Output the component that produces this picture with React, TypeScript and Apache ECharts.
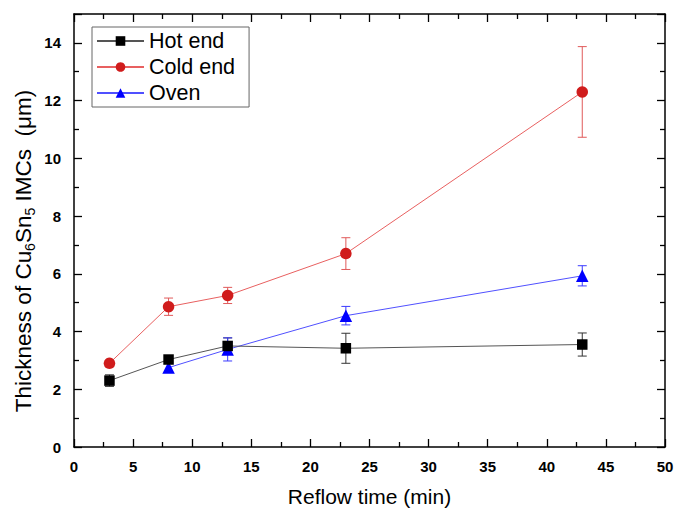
import React, { useEffect, useRef } from "react";
import * as echarts from "echarts";

const xValues = [3, 8, 13, 23, 43];
const hotEnd = [2.3, 3.03, 3.5, 3.42, 3.55];
const hotEndErr = [0.2, 0.1, 0.28, 0.52, 0.4];
const coldEnd = [2.9, 4.86, 5.25, 6.7, 12.3];
const coldEndErr = [0.05, 0.3, 0.28, 0.55, 1.57];
const ovenX = [8, 13, 23, 43];
const oven = [2.75, 3.38, 4.55, 5.93];
const ovenErr = [0.17, 0.4, 0.32, 0.35];

const FONT = "Liberation Sans, Arial, sans-serif";

function errorSeries(name: string, xs: number[], ys: number[], errs: number[], color: string) {
  const data = xs.map((x, i) => [x, ys[i] - errs[i], ys[i] + errs[i]]);
  return {
    type: "custom",
    name: name + "_err",
    z: 1,
    silent: true,
    data,
    renderItem: (params: any, api: any) => {
      const x = api.value(0);
      const lo = api.coord([x, api.value(1)]);
      const hi = api.coord([x, api.value(2)]);
      const hw = 4.5;
      const style = { stroke: color, lineWidth: 1 };
      return {
        type: "group",
        children: [
          { type: "line", shape: { x1: lo[0], y1: lo[1], x2: hi[0], y2: hi[1] }, style },
          { type: "line", shape: { x1: lo[0] - hw, y1: lo[1], x2: lo[0] + hw, y2: lo[1] }, style },
          { type: "line", shape: { x1: hi[0] - hw, y1: hi[1], x2: hi[0] + hw, y2: hi[1] }, style },
        ],
      };
    },
  };
}

export default function App() {
  const ref = useRef<HTMLDivElement>(null);
  useEffect(() => {
    if (!ref.current) return;
    const chart = echarts.init(ref.current, null, { renderer: "svg" });
    const axisLine = { show: true, onZero: false, lineStyle: { color: "#000", width: 1.5 } };
    const xCommon = {
      type: "value",
      min: 0,
      max: 50,
      interval: 5,
      axisLine,
      axisTick: { show: true, inside: true, length: 8, lineStyle: { color: "#000", width: 1.3 } },
      minorTick: { show: true, splitNumber: 2, length: 5, lineStyle: { color: "#000", width: 1.3 } },
      splitLine: { show: false },
    };
    const yCommon = {
      type: "value",
      min: 0,
      max: 15,
      interval: 2,
      axisLine,
      axisTick: { show: true, inside: true, length: 8, lineStyle: { color: "#000", width: 1.3 } },
      minorTick: { show: true, splitNumber: 2, length: 5, lineStyle: { color: "#000", width: 1.3 } },
      splitLine: { show: false },
    };
    chart.setOption({
      animation: false,
      backgroundColor: "#fff",
      grid: { left: 74, right: 10, top: 14, bottom: 61, containLabel: false, outerBoundsMode: "none" },
      legend: {
        orient: "vertical",
        left: 92,
        top: 27,
        data: ["Hot end", "Cold end", "Oven"],
        itemWidth: 47,
        itemHeight: 12,
        itemGap: 4,
        padding: [3, 14, 3, 4],
        borderColor: "#666",
        borderWidth: 1,
        textStyle: { fontFamily: FONT, fontSize: 21.5, color: "#000", lineHeight: 21 },
      },
      graphic: [
        {
          type: "text",
          x: 23,
          y: 251,
          rotation: Math.PI / 2,
          style: {
            text: "{n|Thickness of Cu}{s|6}{n|Sn}{s|5}{n| IMCs  (μm)}",
            align: "center",
            verticalAlign: "middle",
            fill: "#000",
            rich: {
              n: { fontFamily: FONT, fontSize: 22.5, lineHeight: 28, verticalAlign: "middle", fill: "#000" },
              s: { fontFamily: FONT, fontSize: 14, lineHeight: 10, verticalAlign: "bottom", fill: "#000" },
            },
          },
        },
      ],
      xAxis: [
        {
          ...xCommon,
          position: "bottom",
          name: "Reflow time (min)",
          nameLocation: "middle",
          nameGap: 39,
          nameTextStyle: { fontFamily: FONT, fontSize: 21, color: "#000" },
          axisLabel: { fontFamily: FONT, fontSize: 15, fontWeight: "bold", color: "#000", margin: 12 },
        },
        {
          ...xCommon,
          position: "top",
          axisLabel: { show: false },
        },
      ],
      yAxis: [
        {
          ...yCommon,
          position: "left",
          axisLabel: { fontFamily: FONT, fontSize: 15, fontWeight: "bold", color: "#000", margin: 13, showMaxLabel: false },
        },
        {
          ...yCommon,
          position: "right",
          axisLabel: { show: false },
        },
      ],
      series: [
        errorSeries("Hot end", xValues, hotEnd, hotEndErr, "#333"),
        errorSeries("Cold end", xValues, coldEnd, coldEndErr, "#e05a5a"),
        errorSeries("Oven", ovenX, oven, ovenErr, "#3b3bff"),
        {
          name: "Hot end",
          type: "line",
          z: 3,
          data: xValues.map((x, i) => [x, hotEnd[i]]),
          symbol: "rect",
          symbolSize: 10.5,
          itemStyle: { color: "#000" },
          lineStyle: { color: "#555", width: 1 },
        },
        {
          name: "Cold end",
          type: "line",
          z: 2,
          data: xValues.map((x, i) => [x, coldEnd[i]]),
          symbol: "circle",
          symbolSize: 11.5,
          itemStyle: { color: "#d01c1c" },
          lineStyle: { color: "#e86060", width: 1 },
        },
        {
          name: "Oven",
          type: "line",
          z: 2,
          data: ovenX.map((x, i) => [x, oven[i]]),
          symbol: "triangle",
          symbolSize: 12.5,
          itemStyle: { color: "#0000ff" },
          lineStyle: { color: "#5050ff", width: 1 },
        },
      ],
    });
    return () => chart.dispose();
  }, []);
  return <div ref={ref} style={{ position: "fixed", left: 0, top: 0, width: 675, height: 508 }} />;
}
